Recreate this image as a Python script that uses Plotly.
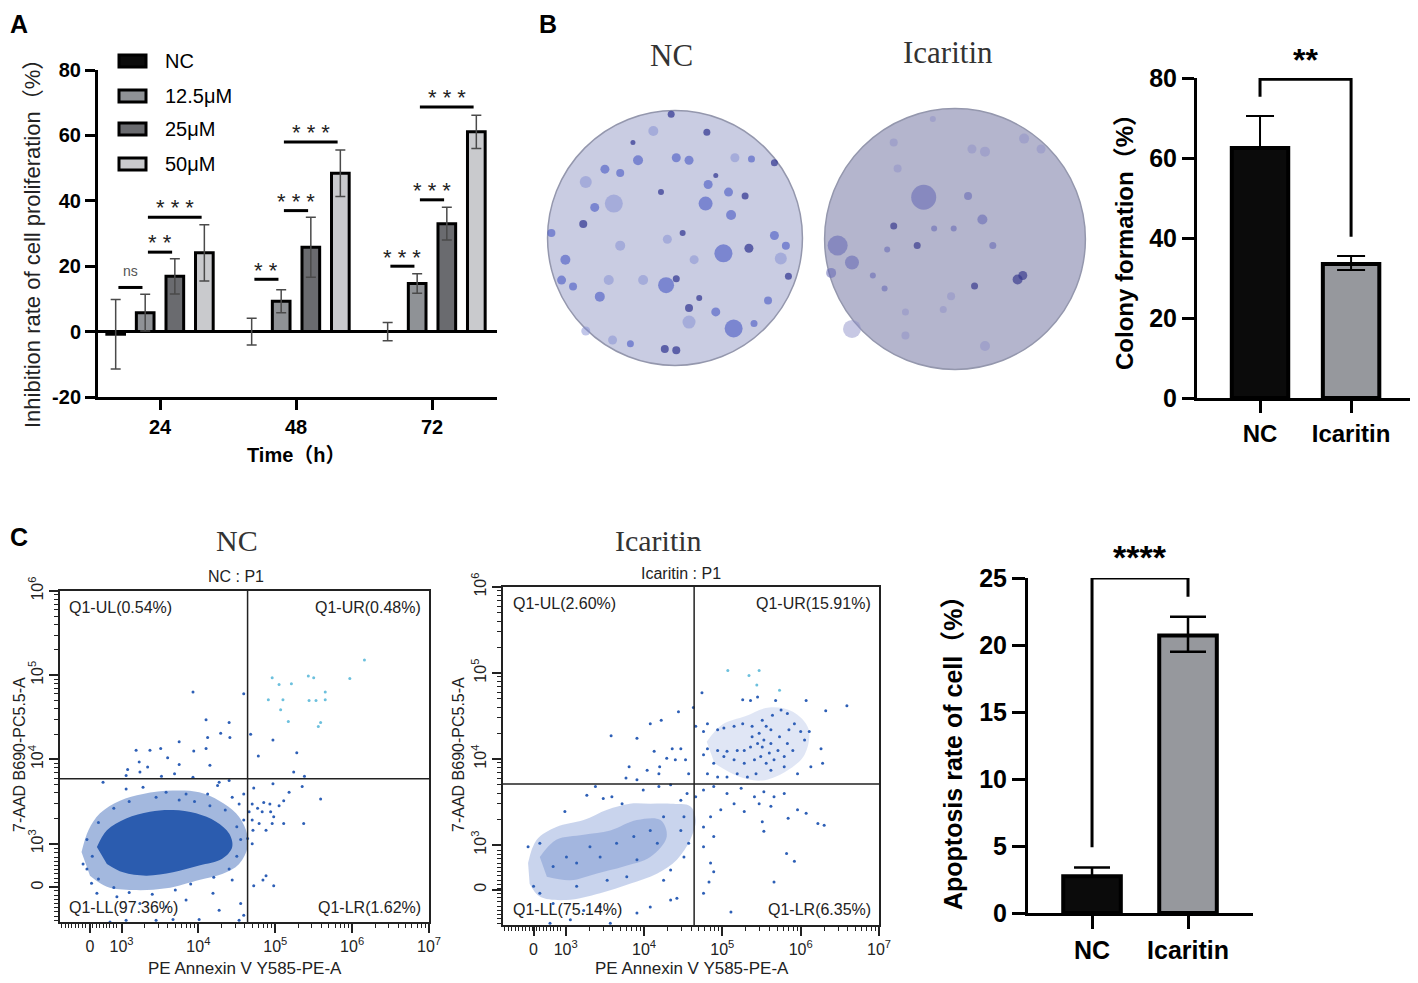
import plotly.graph_objects as go

# the page has an 8px body margin, so the figure is drawn 8px smaller and every
# pixel position below is given in screen pixels and shifted by OFF
OFF = 8
W, H = 1418 - OFF, 983 - OFF
SANS = "Liberation Sans, Arial, Noto Sans CJK SC, sans-serif"
SERIF = "Liberation Serif, Times New Roman, serif"

# ---------------- data ----------------
# panel A: inhibition rate (%)
time_labels = ["24", "48", "72"]
time_pos = [0, 1, 2]
dose_names = ["NC", "12.5μM", "25μM", "50μM"]
dose_colors = ["#0b0b0b", "#8f9296", "#6a6b6f", "#c9cacd"]
inhib_nc = [-0.8, 0.0, 0.0]
inhib_nc_err = [10.6, 4.1, 2.8]
inhib_125 = [5.8, 9.3, 14.7]
inhib_125_err = [5.6, 3.5, 3.0]
inhib_25 = [16.9, 25.8, 33.0]
inhib_25_err = [5.4, 9.2, 5.0]
inhib_50 = [24.1, 48.4, 61.1]
inhib_50_err = [8.6, 7.1, 5.1]

# significance brackets in A: (time index, from dose, to dose, height, label)
sig_time = [0, 0, 0, 1, 1, 1, 2, 2, 2]
sig_from = [0, 1, 1, 0, 1, 1, 0, 1, 1]
sig_to = [1, 2, 3, 1, 2, 3, 1, 2, 3]
sig_level = [13.5, 24.3, 35.0, 16.0, 37.0, 58.0, 20.0, 40.3, 68.7]
sig_text = ["ns", "* *", "* * *", "* *", "* * *", "* * *", "* * *", "* * *", "* * *"]

# panel B: colony formation (%)
groups = ["NC", "Icaritin"]
colony_mean = [62.5, 33.5]
colony_err_up = [8.0, 2.0]
colony_err_down = [0.0, 1.5]
colony_bracket = [75.3, 79.7, 79.7, 40.3]

# colonies on plates (plate-normalised position, diameter px, shade 0 dark / 1 mid / 2 pale)
nc_col_u = [0.25, -0.03, -0.33, -0.29, -0.55, -0.43, -0.70, -0.48, -0.63, -0.72, -0.11, 0.06, -0.06, 0.24,
            0.26, 0.42, 0.44, 0.38, 0.58, 0.78, 0.87, 0.83, -0.07, 0.01, -0.59, -0.86, -0.89, -0.80, 0.11,
            0.32, 0.46, 0.11, -0.08, 0.01, -0.35, -0.49, -0.70, 0.73, 0.47, 0.60, 0.78, 0.32, 0.55, 0.01,
            0.11, -0.17, -0.43, -0.52, -0.25, 0.19, 0.89, 0.62, -0.97, 0.15]
nc_col_v = [0.83, 0.97, 0.75, 0.61, 0.54, 0.51, 0.44, 0.27, 0.24, 0.11, 0.36, 0.04, -0.01, 0.27,
            0.42, 0.36, 0.18, -0.12, -0.08, 0.02, -0.06, -0.16, -0.37, -0.32, -0.46, -0.17, -0.33, -0.38, -0.55,
            -0.58, -0.71, -0.66, -0.87, -0.88, -0.83, -0.80, -0.73, -0.49, 0.63, 0.62, 0.59, 0.49, 0.33, 0.63,
            0.61, 0.84, -0.06, -0.33, -0.33, -0.47, -0.30, -0.67, 0.04, -0.17]
nc_col_size = [7, 7, 5, 10, 9, 8, 12, 18, 9, 8, 6, 6, 9, 14,
               9, 9, 10, 18, 9, 9, 8, 12, 16, 7, 10, 10, 9, 8, 8,
               9, 18, 13, 8, 8, 7, 9, 9, 8, 9, 7, 7, 5, 7, 9,
               9, 10, 10, 10, 10, 6, 7, 7, 8, 9]
nc_col_shade = [0, 0, 0, 1, 1, 1, 2, 2, 1, 0, 0, 0, 2, 1,
                1, 1, 1, 1, 0, 1, 1, 2, 1, 0, 1, 1, 1, 1, 0,
                1, 1, 2, 0, 0, 1, 2, 2, 1, 2, 1, 0, 0, 0, 1,
                1, 2, 2, 2, 2, 0, 0, 1, 1, 2]
ica_col_u = [-0.24, -0.47, -0.29, -0.16, -0.01, 0.21, 0.10, 0.23, 0.13, -0.47, -0.17, 0.53, 0.66, -0.90, -0.79,
             -0.95, -0.52, -0.54, 0.15, 0.48, 0.52, -0.03, -0.09, -0.79, 0.23, -0.38, 0.29, -0.38, -0.63, -0.44]
ica_col_v = [0.32, 0.10, -0.05, 0.08, 0.08, 0.15, 0.33, 0.67, 0.69, 0.74, 0.92, 0.77, 0.69, -0.05, -0.18,
             -0.26, -0.08, -0.38, -0.36, -0.31, -0.28, -0.44, -0.54, -0.69, -0.82, -0.74, -0.05, -0.56, -0.28, 0.54]
ica_col_size = [25, 7, 7, 6, 6, 10, 8, 10, 9, 8, 6, 10, 9, 20, 14, 10, 6, 6, 7, 10, 9, 8, 7, 18, 10, 8, 7, 7, 6, 8]
ica_col_shade = [1, 0, 0, 1, 1, 1, 1, 2, 2, 2, 2, 2, 2, 1, 1, 1, 1, 1, 0, 0, 0, 2, 2, 2, 2, 2, 1, 2, 1, 2]

# panel C: flow cytometry (values in display decades; 2.48 on y / 2.59 on x is the "0" channel)
nc_gate_x, nc_gate_y = 4.64, 3.77
ica_gate_x, ica_gate_y = 4.64, 3.71
nc_quad = ["Q1-UL(0.54%)", "Q1-UR(0.48%)", "Q1-LL(97.36%)", "Q1-LR(1.62%)"]
ica_quad = ["Q1-UL(2.60%)", "Q1-UR(15.91%)", "Q1-LL(75.14%)", "Q1-LR(6.35%)"]

nc_halo_x = [2.48, 2.57, 2.72, 2.98, 3.28, 3.67, 4.01, 4.27, 4.49, 4.62, 4.64, 4.53, 4.31, 4.01, 3.58, 3.15, 2.81, 2.59]
nc_halo_y = [2.90, 3.16, 3.36, 3.51, 3.59, 3.63, 3.61, 3.51, 3.36, 3.16, 2.96, 2.76, 2.64, 2.57, 2.47, 2.45, 2.49, 2.62]
nc_core_x = [2.68, 2.81, 3.06, 3.37, 3.67, 3.97, 4.23, 4.40, 4.44, 4.31, 4.01, 3.67, 3.32, 3.02, 2.81]
nc_core_y = [2.96, 3.16, 3.30, 3.38, 3.40, 3.36, 3.26, 3.12, 2.96, 2.82, 2.74, 2.66, 2.62, 2.66, 2.76]
nc_dot_x = [3.93, 4.59, 4.10, 4.40, 4.29, 4.41, 4.12, 3.75, 3.19, 3.37, 3.51, 3.94, 4.10, 3.60, 3.23, 3.75, 4.15,
            3.34, 3.08, 3.24, 3.52, 3.69, 3.06, 3.93, 4.40, 4.27,
            4.97, 4.68, 4.78, 5.28, 5.24, 5.38,
            4.72, 4.97, 5.35, 5.59, 5.18, 5.11, 5.05, 4.93, 4.85, 4.70, 4.77, 4.66, 4.83, 4.94, 4.98, 4.70, 4.79,
            4.96, 5.11, 5.37, 4.71, 4.88, 4.64, 4.70, 4.88, 4.84, 4.98, 4.72,
            2.76, 3.06, 3.28, 3.58, 3.84, 4.12, 4.25, 4.44, 4.53, 4.59, 4.59, 2.50, 2.61, 2.68, 2.94, 3.24, 3.58,
            3.84, 4.19, 4.27, 4.44, 4.55, 4.59, 3.45, 3.67, 3.06, 4.01, 4.53, 2.85,
            2.55, 2.62, 2.70, 2.90, 3.10, 3.45, 3.75, 3.95, 4.15, 4.35, 4.50, 4.55, 4.50, 4.40, 4.20, 3.90, 3.70,
            3.40, 3.10, 2.90, 2.70, 2.55]
nc_dot_y = [4.80, 4.78, 4.47, 4.44, 4.31, 4.26, 4.26, 4.21, 4.11, 4.11, 4.13, 4.10, 4.13, 4.02, 3.97, 3.94, 3.93,
            3.91, 3.88, 3.85, 3.80, 3.83, 3.81, 3.79, 3.75, 3.73,
            4.23, 4.30, 4.04, 4.08, 3.85, 3.80,
            3.66, 3.71, 3.68, 3.53, 3.61, 3.51, 3.45, 3.47, 3.49, 3.47, 3.42, 3.38, 3.38, 3.38, 3.32, 3.28, 3.24,
            3.24, 3.24, 3.24, 3.16, 3.16, 3.06, 3.00, 2.62, 2.57, 2.50, 2.50,
            3.73, 3.65, 3.67, 3.61, 3.59, 3.59, 3.69, 3.55, 3.47, 3.59, 3.28, 2.76, 2.53, 2.41, 2.37, 2.29, 2.25,
            2.33, 2.41, 2.21, 2.57, 2.29, 2.15, 2.09, 2.10, 2.09, 2.10, 2.09, 2.07,
            3.05, 2.85, 3.25, 3.42, 3.50, 3.55, 3.52, 3.50, 3.45, 3.40, 3.20, 3.05, 2.85, 2.70, 2.60, 2.52, 2.45,
            2.40, 2.42, 2.48, 2.58, 2.70]
nc_cyan_x = [4.96, 5.05, 5.21, 5.43, 5.50, 5.97, 6.16, 4.91, 5.10, 5.44, 5.53, 5.65, 5.65, 5.07, 5.17, 5.59, 5.56]
nc_cyan_y = [4.97, 4.89, 4.90, 4.99, 4.97, 4.96, 5.18, 4.71, 4.71, 4.70, 4.70, 4.80, 4.71, 4.59, 4.45, 4.44, 4.39]

ica_halo_x = [2.52, 2.63, 2.88, 3.23, 3.53, 3.82, 4.08, 4.34, 4.59, 4.66, 4.59, 4.42, 4.17, 3.82, 3.44, 3.01, 2.67, 2.54]
ica_halo_y = [2.79, 3.06, 3.21, 3.29, 3.41, 3.48, 3.48, 3.48, 3.45, 3.29, 3.06, 2.83, 2.67, 2.55, 2.44, 2.36, 2.40, 2.55]
ica_core_x = [2.67, 2.88, 3.23, 3.57, 3.91, 4.21, 4.29, 4.08, 3.74, 3.40, 3.06, 2.76]
ica_core_y = [2.86, 3.06, 3.12, 3.17, 3.29, 3.29, 3.10, 2.86, 2.75, 2.67, 2.59, 2.63]
ica_ur_cloud_x = [4.80, 5.00, 5.30, 5.60, 5.90, 6.10, 6.05, 5.80, 5.50, 5.20, 4.90]
ica_ur_cloud_y = [4.20, 4.40, 4.50, 4.60, 4.55, 4.35, 4.05, 3.85, 3.75, 3.80, 3.95]
ica_dot_x = [3.58, 3.91, 4.08, 4.22, 4.44, 4.63, 4.66, 4.13, 4.29, 4.40, 4.47, 4.36, 4.20, 4.19, 4.04, 3.81, 3.77,
             3.91, 4.53, 4.57,
             4.74, 5.26, 5.36, 5.45, 5.68, 6.07, 6.32, 6.59, 4.81, 4.76, 4.94, 5.02, 5.15, 5.26, 5.38, 5.51, 5.64,
             5.75, 5.83, 5.92, 6.00, 6.11, 6.05, 6.26, 6.28, 6.13, 5.96, 5.79, 5.79, 5.71, 5.62, 5.53, 5.45, 5.36,
             5.28, 5.19, 5.06, 4.94, 4.81, 4.76, 4.89, 5.02, 5.15, 5.28, 5.41, 5.49, 5.56, 5.62, 5.43, 5.32, 5.19,
             5.06, 4.94, 4.81, 5.47, 5.56, 5.38, 5.62, 5.73, 5.83, 5.90, 5.85, 5.51, 5.60, 5.66,
             4.76, 4.89, 5.06, 5.24, 5.41, 5.53, 5.66, 5.79, 5.96, 6.07, 5.62, 5.47, 5.28, 5.15, 4.98, 4.85, 4.76,
             4.89, 4.76, 4.85, 4.89, 4.83, 4.76, 5.11, 5.51, 5.53, 5.82, 5.92, 5.66, 6.22, 6.30, 5.84,
             2.52, 2.67, 2.99, 3.27, 3.38, 3.48, 3.59, 3.72, 3.99, 4.19, 4.34, 4.47, 4.55, 4.66, 4.51, 4.47, 4.57,
             4.51, 4.34, 4.25, 4.42, 4.34, 4.08, 3.91, 3.44, 3.23, 2.84, 2.67, 2.59, 2.80, 3.06, 3.57, 2.84, 3.14,
             3.44, 3.65, 3.87, 4.08, 4.25, 3.31, 3.01, 3.53, 3.78, 3.14, 3.91, 4.17]
ica_dot_y = [4.27, 4.24, 4.41, 4.45, 4.55, 4.60, 4.38, 4.09, 4.01, 3.99, 4.12, 4.12, 3.91, 3.83, 3.87, 3.91, 3.78,
             3.76, 3.99, 3.83,
             4.77, 4.69, 4.68, 4.72, 4.68, 4.68, 4.56, 4.62, 4.41, 4.32, 4.34, 4.36, 4.38, 4.41, 4.38, 4.45, 4.51,
             4.57, 4.53, 4.41, 4.32, 4.32, 4.22, 4.12, 3.95, 3.91, 3.83, 3.91, 4.03, 4.10, 4.18, 4.22, 4.18, 4.14,
             4.10, 4.10, 4.09, 4.10, 4.12, 4.05, 3.95, 4.03, 3.99, 3.95, 3.99, 4.03, 3.95, 3.87, 3.83, 3.79, 3.83,
             3.79, 3.79, 3.83, 4.30, 4.38, 4.26, 4.34, 4.26, 4.18, 4.10, 4.34, 4.14, 4.07, 3.99,
             3.64, 3.68, 3.60, 3.66, 3.56, 3.62, 3.56, 3.60, 3.41, 3.37, 3.45, 3.48, 3.39, 3.48, 3.41, 3.33, 3.21,
             3.10, 2.98, 2.79, 2.69, 2.57, 2.44, 2.22, 3.27, 3.16, 2.90, 2.81, 2.57, 3.25, 3.23, 3.31,
             2.98, 3.02, 3.39, 3.58, 3.68, 3.54, 3.56, 3.48, 3.64, 3.68, 3.70, 3.52, 3.60, 3.56, 3.33, 3.17, 3.02,
             2.86, 2.71, 2.59, 2.38, 2.36, 2.28, 2.21, 2.28, 2.24, 2.32, 2.44, 2.52, 2.09, 2.13, 2.09, 2.75, 2.79,
             2.86, 3.02, 3.10, 3.17, 3.33, 2.98, 2.86, 2.59, 2.63, 2.52, 2.83, 3.02]
ica_cyan_x = [5.07, 5.34, 5.47, 5.44, 5.73]
ica_cyan_y = [5.03, 4.97, 5.03, 4.86, 4.80]

# panel C right: apoptosis rate (%)
apop_mean = [2.75, 20.7]
apop_err_up = [0.65, 1.4]
apop_err_down = [0.0, 1.2]
apop_bracket = [4.9, 25.0, 25.0, 23.6]


# ---------------- helpers ----------------
def xd(a, b):
    return [(a - OFF) / W, (b - OFF) / W]


def yd(top, bottom):
    return [1 - (bottom - OFF) / H, 1 - (top - OFF) / H]


def px(p):
    return (p - OFF) / W


def py(p):
    return 1 - (p - OFF) / H


fig = go.Figure()


def ann(text, x, y, size, bold=False, family=SANS, color="black", angle=0, xanchor="center", yanchor="middle"):
    fig.add_annotation(text=text, x=px(x), y=py(y), xref="paper", yref="paper", showarrow=False,
                       font=dict(family=family, size=size, color=color, weight="bold" if bold else "normal"),
                       textangle=angle, xanchor=xanchor, yanchor=yanchor)


def line_trace(x, y, xa, ya, width=3, color="black"):
    fig.add_trace(go.Scatter(x=x, y=y, mode="lines", line=dict(color=color, width=width),
                             xaxis=xa, yaxis=ya, cliponaxis=False, hoverinfo="skip"))


# ---------------- panel A ----------------
bar_w = 0.13
slot = [-0.326, -0.109, 0.109, 0.326]
a_vals = [inhib_nc, inhib_125, inhib_25, inhib_50]
a_errs = [inhib_nc_err, inhib_125_err, inhib_25_err, inhib_50_err]
for k in range(4):
    fig.add_trace(go.Bar(x=time_pos, y=a_vals[k], width=bar_w, offset=slot[k] - bar_w / 2,
                         marker=dict(color=dose_colors[k], line=dict(color="black", width=3)),
                         error_y=dict(type="data", array=a_errs[k], color="#4a4a4a", thickness=1.5, width=5),
                         xaxis="x", yaxis="y"))

for t, a, b, lv, txt in zip(sig_time, sig_from, sig_to, sig_level, sig_text):
    x0 = t + slot[a] + 0.02
    x1 = t + slot[b] - 0.02
    line_trace([x0, x1], [lv, lv], "x", "y", width=3)
    if txt == "ns":
        fig.add_annotation(text=txt, x=(x0 + x1) / 2, y=lv + 5, xref="x", yref="y", showarrow=False,
                           font=dict(family=SANS, size=14, color="#555"))
    else:
        fig.add_annotation(text=txt, x=(x0 + x1) / 2, y=lv + 2.8, xref="x", yref="y", showarrow=False,
                           yanchor="middle", font=dict(family=SANS, size=22, color="#222"))

# legend of panel A
legend_rows = [61, 96, 129, 164]
for name, col, ry in zip(dose_names, dose_colors, legend_rows):
    fig.add_shape(type="rect", xref="paper", yref="paper", x0=px(119), x1=px(146),
                  y0=py(ry + 6), y1=py(ry - 6),
                  fillcolor=col, line=dict(color="black", width=3))
    ann(name, 163, ry, 20, xanchor="left")

# ---------------- panel B plates ----------------
nc_shades = ["rgba(38,42,140,0.95)", "rgba(70,88,196,0.85)", "rgba(128,138,210,0.7)"]
ica_shades = ["rgba(52,54,140,0.95)", "rgba(100,104,180,0.8)", "rgba(140,142,200,0.7)"]
for xa, ya, fillc in [("x2", "y2", "#c9cce2"), ("x3", "y3", "#b4b5cd")]:
    fig.add_shape(type="circle", xref=xa, yref=ya, x0=-1, y0=-1, x1=1, y1=1,
                  fillcolor=fillc, line=dict(color="#9497ad", width=1.5), layer="below")
fig.add_trace(go.Scatter(x=nc_col_u, y=nc_col_v, mode="markers", xaxis="x2", yaxis="y2",
                         marker=dict(size=nc_col_size, color=[nc_shades[s] for s in nc_col_shade],
                                     line=dict(width=0))))
fig.add_trace(go.Scatter(x=ica_col_u, y=ica_col_v, mode="markers", xaxis="x3", yaxis="y3",
                         marker=dict(size=ica_col_size, color=[ica_shades[s] for s in ica_col_shade],
                                     line=dict(width=0))))

# ---------------- panel B bars ----------------
fig.add_trace(go.Bar(x=[0, 1], y=colony_mean, width=0.62,
                     marker=dict(color=["#0b0b0b", "#96989d"], line=dict(color="black", width=4)),
                     error_y=dict(type="data", symmetric=False, array=colony_err_up, arrayminus=colony_err_down,
                                  color="black", thickness=2, width=14),
                     xaxis="x4", yaxis="y4"))
line_trace([0, 0, 1, 1], colony_bracket, "x4", "y4", width=3)

# ---------------- panel C flow plots ----------------
for (xa, ya, hx, hy, cx, cy, dx, dy, qx, qy, gx, gy, halo_col, core_col) in [
    ("x5", "y5", nc_halo_x, nc_halo_y, nc_core_x, nc_core_y, nc_dot_x, nc_dot_y, nc_cyan_x, nc_cyan_y,
     nc_gate_x, nc_gate_y, "rgba(52,98,182,0.45)", "#2b5caf"),
    ("x6", "y6", ica_halo_x, ica_halo_y, ica_core_x, ica_core_y, ica_dot_x, ica_dot_y, ica_cyan_x, ica_cyan_y,
     ica_gate_x, ica_gate_y, "rgba(60,100,190,0.28)", "rgba(50,90,185,0.25)")]:
    fig.add_trace(go.Scatter(x=hx, y=hy, fill="toself", fillcolor=halo_col, mode="lines",
                             line=dict(width=0, shape="spline"), xaxis=xa, yaxis=ya, hoverinfo="skip"))
    fig.add_trace(go.Scatter(x=cx, y=cy, fill="toself", fillcolor=core_col, mode="lines",
                             line=dict(width=0, shape="spline"), xaxis=xa, yaxis=ya, hoverinfo="skip"))
    fig.add_trace(go.Scatter(x=dx, y=dy, mode="markers", marker=dict(size=3, color="#2d5fb6"),
                             xaxis=xa, yaxis=ya))
    fig.add_trace(go.Scatter(x=qx, y=qy, mode="markers", marker=dict(size=3, color="#6cc0dd"),
                             xaxis=xa, yaxis=ya))
    line_trace([gx, gx], [2.07, 6.0], xa, ya, width=1.5, color="#222")
    line_trace([2.2, 7.0], [gy, gy], xa, ya, width=1.5, color="#222")

fig.add_trace(go.Scatter(x=ica_ur_cloud_x, y=ica_ur_cloud_y, fill="toself", fillcolor="rgba(60,100,190,0.16)",
                         mode="lines", line=dict(width=0, shape="spline"), xaxis="x6", yaxis="y6"))

for xa, labels in [("x5", nc_quad), ("x6", ica_quad)]:
    for txt, xx, yy, xan in [(labels[0], 0.02, 0.95, "left"), (labels[1], 0.985, 0.95, "right"),
                             (labels[2], 0.02, 0.045, "left"), (labels[3], 0.985, 0.045, "right")]:
        fig.add_annotation(text=txt, x=xx, y=yy, xref=xa + " domain", yref=xa.replace("x", "y") + " domain",
                           showarrow=False, xanchor=xan, yanchor="middle",
                           font=dict(family=SANS, size=16, color="#222"))

# ---------------- panel C bars ----------------
fig.add_trace(go.Bar(x=[0, 1], y=apop_mean, width=0.6,
                     marker=dict(color=["#0b0b0b", "#96989d"], line=dict(color="black", width=4)),
                     error_y=dict(type="data", symmetric=False, array=apop_err_up, arrayminus=apop_err_down,
                                  color="black", thickness=2.5, width=18),
                     xaxis="x7", yaxis="y7"))
line_trace([0, 0, 1, 1], apop_bracket, "x7", "y7", width=3)

# ---------------- axes ----------------
bold = lambda s: dict(family=SANS, size=s, color="black", weight="bold")
bar_axis = dict(showline=True, linecolor="black", linewidth=3, ticks="outside", tickcolor="black",
                tickwidth=3, showgrid=False, zeroline=False, automargin=False)
hidden = dict(visible=False, range=[-1.02, 1.02], showgrid=False, zeroline=False, automargin=False)

dec_minor = [n + v for n in range(3, 7) for v in [0.301, 0.477, 0.602, 0.699, 0.778, 0.845, 0.903, 0.954]]
flow_minor_x = [2.22 + 0.045 * i for i in range(17)] + dec_minor
flow_minor_y = [2.09 + 0.05 * i for i in range(18)] + dec_minor
flow_x = dict(range=[2.2, 7.0], tickvals=[2.59, 3, 4, 5, 6, 7],
              ticktext=["0", "10<sup>3</sup>", "10<sup>4</sup>", "10<sup>5</sup>", "10<sup>6</sup>", "10<sup>7</sup>"],
              showline=True, linecolor="#222", linewidth=1.5, mirror=True, ticks="outside", ticklen=9,
              tickwidth=1.5, tickcolor="#222", tickfont=dict(family=SANS, size=16, color="#222"),
              minor=dict(tickvals=[v for v in flow_minor_x if v < 7], ticks="outside", ticklen=4,
                         tickwidth=1, tickcolor="#222"),
              showgrid=False, zeroline=False, automargin=False)
flow_y = dict(range=[2.07, 6.0], tickvals=[2.48, 3, 4, 5, 6],
              ticktext=["0", "10<sup>3</sup>", "10<sup>4</sup>", "10<sup>5</sup>", "10<sup>6</sup>"],
              showline=True, linecolor="#222", linewidth=1.5, mirror=True, ticks="outside", ticklen=9,
              tickwidth=1.5, tickcolor="#222", tickangle=-90, tickfont=dict(family=SANS, size=16, color="#222"),
              minor=dict(tickvals=[v for v in flow_minor_y if v < 6], ticks="outside", ticklen=4,
                         tickwidth=1, tickcolor="#222"),
              showgrid=False, zeroline=False, automargin=False)

fig.update_layout(
    width=W, height=H, margin=dict(l=0, r=0, t=0, b=0, autoexpand=False),
    paper_bgcolor="white", plot_bgcolor="rgba(0,0,0,0)",
    showlegend=False, barmode="overlay",
    xaxis=dict(bar_axis, domain=xd(98, 497), range=[-0.456, 2.478], tickvals=time_pos, ticktext=time_labels,
               ticklen=10, tickfont=bold(20), anchor="y"),
    yaxis=dict(bar_axis, domain=yd(70, 397), range=[-20, 80], tickvals=[-20, 0, 20, 40, 60, 80],
               ticktext=["-20", "0", "20", "40", "60", "80"], ticklen=10, tickfont=bold(20),
               zeroline=True, zerolinecolor="black", zerolinewidth=2.5, anchor="x"),
    xaxis2=dict(hidden, domain=xd(545, 805), anchor="y2"),
    yaxis2=dict(hidden, domain=yd(108, 368), anchor="x2"),
    xaxis3=dict(hidden, domain=xd(822, 1088), anchor="y3"),
    yaxis3=dict(hidden, domain=yd(106, 372), anchor="x3"),
    xaxis4=dict(bar_axis, domain=xd(1197, 1413), range=[-0.692, 1.68], tickvals=[0, 1], ticktext=groups,
                ticklen=12, tickfont=bold(24), anchor="y4"),
    yaxis4=dict(bar_axis, domain=yd(78, 398), range=[0, 80], tickvals=[0, 20, 40, 60, 80],
                ticklen=12, tickfont=bold(25), anchor="x4"),
    xaxis5=dict(flow_x, domain=xd(60, 429), anchor="y5"),
    yaxis5=dict(flow_y, domain=yd(591, 922), anchor="x5"),
    xaxis6=dict(flow_x, domain=xd(503, 879), anchor="y6"),
    yaxis6=dict(flow_y, domain=yd(587, 925), anchor="x6"),
    xaxis7=dict(bar_axis, domain=xd(1028, 1253), range=[-0.667, 1.677], tickvals=[0, 1], ticktext=groups,
                ticklen=13, tickfont=bold(25), anchor="y7"),
    yaxis7=dict(bar_axis, domain=yd(578, 913), range=[0, 25], tickvals=[0, 5, 10, 15, 20, 25],
                ticklen=13, tickfont=bold(25), anchor="x7"),
)

# ---------------- texts ----------------
ann("A", 8, 8, 25, bold=True, xanchor="left", yanchor="top")
ann("B", 537, 8, 25, bold=True, xanchor="left", yanchor="top")
ann("C", 8, 537, 25, bold=True, xanchor="left")
ann("Inhibition rate of cell proliferation（%）", 32, 238, 22, angle=-90, color="#222")
ann("Time（h）", 296, 455, 20, bold=True)
ann("NC", 671, 55, 31, family=SERIF, color="#333")
ann("Icaritin", 948, 52, 31, family=SERIF, color="#333")
ann("Colony formation（%）", 1125, 236, 24, bold=True, angle=-90)
ann("**", 1305, 60, 32, bold=True)
ann("NC", 237, 540, 30, family=SERIF, color="#333")
ann("Icaritin", 658, 540, 30, family=SERIF, color="#333")
ann("NC : P1", 236, 576, 16, color="#222")
ann("Icaritin : P1", 681, 573, 16, color="#222")
ann("7-AAD B690-PC5.5-A", 19, 755, 16, angle=-90, color="#222")
ann("7-AAD B690-PC5.5-A", 458, 755, 16, angle=-90, color="#222")
ann("PE Annexin V Y585-PE-A", 245, 968, 17, color="#222")
ann("PE Annexin V Y585-PE-A", 692, 968, 17, color="#222")
ann("Apoptosis rate of cell（%）", 953, 747, 25, bold=True, angle=-90)
ann("****", 1140, 557, 34, bold=True)

fig.write_html("out.html")
